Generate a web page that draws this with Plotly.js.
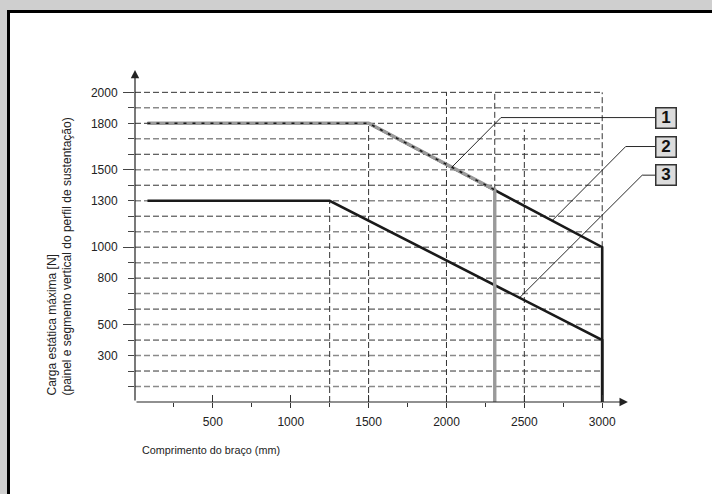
<!DOCTYPE html>
<html><head><meta charset="utf-8">
<script src="https://cdn.plot.ly/plotly-3.0.1.min.js"></script>
<style>
html,body{margin:0;padding:0;background:#cfcfcf;width:712px;height:494px;overflow:hidden;}
#frame{position:absolute;left:7px;top:10px;width:705px;height:484px;background:#fff;border-left:3px solid #000;border-top:3px solid #000;box-sizing:border-box;}
#chart{position:absolute;left:0;top:0;width:712px;height:494px;}
</style></head><body>
<div id="frame"></div><div id="chart"></div>
<script>
// ---- data ----
const armLength1 = [80, 1500, 2310, 2310];
const load1      = [1800, 1800, 1370, 0];
const armLength2 = [80, 1500, 3000, 3000];
const load2      = [1800, 1800, 1000, 0];
const armLength3 = [80, 1250, 3000, 3000];
const load3      = [1300, 1300, 400, 0];
const curveLabels = ['1', '2', '3'];
const labelPointX = [2034, 2676, 2472];
const labelPointY = [1516, 1169, 676];
const labelElbowX = [2350, 3151, 3257];
const labelBoxY   = [1837, 1650, 1465];
const yTickVals = [300, 500, 800, 1000, 1300, 1500, 1800, 2000];
const yTickText = ['300', '500', '800', '1000', '1300', '1500', '1800', '2000'];
const yMinorVals = [100, 200, 400, 600, 700, 900, 1100, 1200, 1400, 1600, 1700, 1900];
const yLongTickVals = [500, 1000, 1500, 2000];
const xTickVals = [500, 1000, 1500, 2000, 2500, 3000];
const xTickText = ['500', '1000', '1500', '2000', '2500', '3000'];
const xMinorVals = [250, 750, 1250, 1750, 2250, 2750];
const gridLoads = [100, 200, 300, 400, 500, 600, 700, 800, 900, 1000,
                   1100, 1200, 1300, 1400, 1500, 1600, 1700, 1800, 1900, 2000];
const vGridX    = [1250, 1500, 2000, 2310, 2500, 3000];
const vGridFrom = [0, 0, 0, 1370, 0, 1000];
const vGridTo   = [1300, 1800, 2000, 2000, 1760, 2000];

// ---- styling ----
const FONT = 'Liberation Sans, Arial, Helvetica, sans-serif';
const TXT = '#222';
const GRID_GRAY = '#8a8a8a';
const GRID_BLACK = '#333';
const gridMaxX = xTickVals[xTickVals.length - 1];
const boxX = 3410, boxLeftX = 3339;

const traces = [
  {x: armLength2, y: load2, mode: 'lines', line: {color: '#1a1a1a', width: 2.6}, hoverinfo: 'skip'},
  {x: armLength3, y: load3, mode: 'lines', line: {color: '#1a1a1a', width: 2.6}, hoverinfo: 'skip'},
  {x: armLength1, y: load1, mode: 'lines', line: {color: '#9a9a9a', width: 3.4}, hoverinfo: 'skip'},
  {x: armLength1.slice(0, 3), y: load1.slice(0, 3), mode: 'lines',
   line: {color: '#1a1a1a', width: 1.6, dash: '3px,6px'}, hoverinfo: 'skip'},
  {x: [], y: [], xaxis: 'x2', yaxis: 'y2', hoverinfo: 'skip'}
];

const shapes = [];
gridLoads.forEach(g => {
  const odd = (g / 100) % 2 === 1;
  shapes.push({type: 'line', xref: 'x', yref: 'y', layer: 'below',
    x0: 0, x1: gridMaxX, y0: g, y1: g,
    line: {color: odd ? GRID_GRAY : GRID_BLACK, width: odd ? 1.5 : 1, dash: '6px,3px'}});
});
vGridX.forEach((vx, i) => {
  shapes.push({type: 'line', xref: 'x', yref: 'y', layer: 'below',
    x0: vx, x1: vx, y0: vGridFrom[i], y1: vGridTo[i],
    line: {color: GRID_BLACK, width: 1, dash: '6px,3px'}});
});
curveLabels.forEach((c, i) => {
  shapes.push({type: 'path', xref: 'x', yref: 'y', layer: 'above',
    path: `M ${boxLeftX},${labelBoxY[i]} L ${labelElbowX[i]},${labelBoxY[i]} L ${labelPointX[i]},${labelPointY[i]}`,
    line: {color: '#111', width: 0.9}});
});

const annotations = [
  // axis arrows
  {x: 3165, y: 0, ax: 0, ay: 0, axref: 'x', ayref: 'y', xref: 'x', yref: 'y', text: '',
   showarrow: true, arrowhead: 2, arrowsize: 1.4, arrowwidth: 1.2, arrowcolor: '#222'},
  {x: 0, y: 2145, ax: 0, ay: 0, axref: 'x', ayref: 'y', xref: 'x', yref: 'y', text: '',
   showarrow: true, arrowhead: 2, arrowsize: 1.4, arrowwidth: 1.2, arrowcolor: '#222'},
  // axis titles
  {xref: 'paper', yref: 'paper', x: (140 - 135) / 577, y: -(450 - 402) / 362,
   xanchor: 'left', yanchor: 'middle', showarrow: false,
   text: 'Comprimento do braço (mm)', font: {family: FONT, size: 10.8, color: TXT}},
  {xref: 'paper', yref: 'paper', x: (59.5 - 135) / 577, y: (402 - 398) / 362,
   xanchor: 'center', yanchor: 'bottom', showarrow: false, textangle: -90, align: 'left',
   text: 'Carga estática máxima [N]<br>(painel e segmento vertical do perfil de sustentação)',
   font: {family: FONT, size: 12, color: TXT}}
];
curveLabels.forEach((c, i) => {
  annotations.push({x: boxX, y: labelBoxY[i], xref: 'x', yref: 'y', showarrow: false,
    text: '<b>' + c + '</b>', font: {family: FONT, size: 17, color: '#111'},
    bgcolor: '#dcdcdc', bordercolor: '#333', borderwidth: 1.5, borderpad: 0,
    width: 19, height: 18.5, xanchor: 'center', yanchor: 'middle'});
});

const axFont = {family: FONT, size: 12, color: TXT};
const layout = {
  width: 712, height: 494,
  margin: {l: 135, r: 0, t: 40, b: 92, pad: 0},
  paper_bgcolor: 'rgba(0,0,0,0)', plot_bgcolor: 'rgba(0,0,0,0)',
  showlegend: false,
  xaxis: {range: [0, 3705], showline: false, showgrid: false, zeroline: false,
    tickmode: 'array', tickvals: xTickVals, ticktext: xTickText,
    ticks: 'outside', ticklen: 5, tickwidth: 1, tickcolor: '#333',
    tickfont: axFont, ticklabelstandoff: 4,
    minor: {tickmode: 'array', tickvals: xMinorVals, ticks: 'outside', ticklen: 4, tickwidth: 1, tickcolor: '#333', showgrid: false},
    fixedrange: true},
  yaxis: {range: [0, 2338], showline: false, showgrid: false, zeroline: false,
    tickmode: 'array', tickvals: yTickVals, ticktext: yTickText,
    ticks: 'outside', ticklen: 6, tickwidth: 1, tickcolor: '#444',
    tickfont: axFont, ticklabelstandoff: 8,
    minor: {tickmode: 'array', tickvals: yMinorVals, ticks: 'outside', ticklen: 6, tickwidth: 1, tickcolor: '#444', showgrid: false},
    fixedrange: true},
  xaxis2: {overlaying: 'x', matches: 'x', anchor: 'y2', side: 'bottom', showline: false, showgrid: false, zeroline: false,
    tickmode: 'array', tickvals: xTickVals, ticks: 'inside', ticklen: 7, tickwidth: 1, tickcolor: '#333',
    showticklabels: false, fixedrange: true},
  yaxis2: {overlaying: 'y', matches: 'y', anchor: 'x2', side: 'left', showline: false, showgrid: false, zeroline: false,
    tickmode: 'array', tickvals: yLongTickVals, ticks: 'outside', ticklen: 11, tickwidth: 1, tickcolor: '#444',
    showticklabels: false, fixedrange: true},
  shapes: shapes,
  annotations: annotations
};

Plotly.newPlot('chart', traces, layout, {displayModeBar: false, staticPlot: true});
</script>
</body></html>
